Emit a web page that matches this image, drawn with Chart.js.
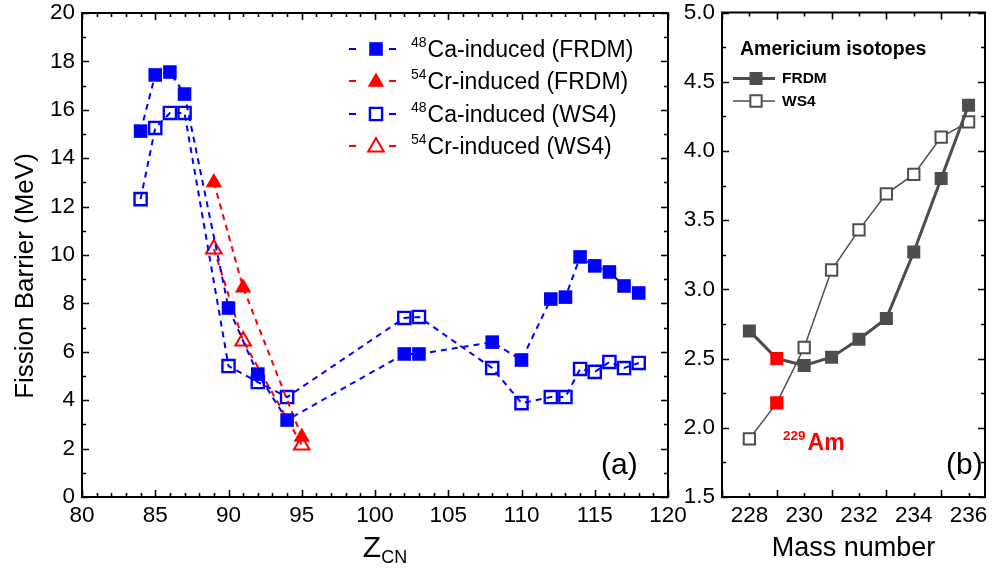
<!DOCTYPE html>
<html><head><meta charset="utf-8">
<script src="https://cdn.jsdelivr.net/npm/chart.js@4.4.1/dist/chart.umd.min.js"></script>
<style>
html,body{margin:0;padding:0;background:#fff;width:995px;height:569px;overflow:hidden;}
#wrapA{position:absolute;left:0;top:0;width:700px;height:569px;}
#wrapB{position:absolute;left:670px;top:0;width:325px;height:569px;}
canvas{display:block;}
</style></head>
<body>
<div id="wrapA"><canvas id="cA" width="700" height="569"></canvas></div>
<div id="wrapB"><canvas id="cB" width="325" height="569"></canvas></div>
<script>
// ---------- Panel (a) data ----------
const zCa = [84,85,86,87,90,92,94,102,103,108,110,112,113,114,115,116,117,118];
const caFRDM = [15.12,17.44,17.56,16.65,7.81,5.08,3.18,5.91,5.91,6.40,5.66,8.18,8.26,9.92,9.55,9.30,8.72,8.43];
const caWS4  = [12.31,15.25,15.87,15.87,5.41,4.75,4.13,7.40,7.44,5.33,3.88,4.13,4.13,5.29,5.17,5.58,5.33,5.54];
const zCr = [89,91,95];
const crFRDM = [13.0,8.65,2.48];
const crWS4  = [10.25,6.45,2.15];
const zTicks = [80,85,90,95,100,105,110,115,120];
const barrierTicks = [0,2,4,6,8,10,12,14,16,18,20];
const seriesNamesA = [
  ['48','Ca-induced (FRDM)'],
  ['54','Cr-induced (FRDM)'],
  ['48','Ca-induced (WS4)'],
  ['54','Cr-induced (WS4)']
];
// ---------- Panel (b) data ----------
const massAm = [228,229,230,231,232,233,234,235,236];
const amFRDM = [2.70,2.50,2.45,2.51,2.64,2.79,3.27,3.80,4.33];
const amWS4  = [1.92,2.18,2.58,3.14,3.43,3.69,3.83,4.10,4.21];
const massTicks = [228,230,232,234,236];
const amBarrierTicks = [1.5,2.0,2.5,3.0,3.5,4.0,4.5,5.0];
const highlightMass = 229;

const FONT = '"Liberation Sans", Arial, Helvetica, sans-serif';
const BLUE = '#0000ff', RED = '#ff0000', GRAY = '#4d4d4d';
const TICKFONT = {family:FONT, size:22.5};

function pts(xs, ys){ return xs.map((x,i)=>({x:x, y:ys[i]})); }

function marker(ctx, style, x, y, r, fill, stroke, lw){
  ctx.save();
  ctx.beginPath();
  if(style==='rect'){
    const s = r*Math.SQRT1_2;
    ctx.rect(x-s, y-s, 2*s, 2*s);
  } else {
    let rad = 0;
    ctx.moveTo(x+Math.sin(rad)*r, y-Math.cos(rad)*r);
    rad += 2*Math.PI/3; ctx.lineTo(x+Math.sin(rad)*r, y-Math.cos(rad)*r);
    rad += 2*Math.PI/3; ctx.lineTo(x+Math.sin(rad)*r, y-Math.cos(rad)*r);
    ctx.closePath();
  }
  if(fill){ ctx.fillStyle = fill; ctx.fill(); }
  if(stroke){ ctx.setLineDash([]); ctx.lineWidth = lw; ctx.strokeStyle = stroke; ctx.stroke(); }
  ctx.restore();
}

function drawFrame(chart, xStep, xMajorEvery, yStep, yMajorEvery, xMin, xMax, yMin, yMax){
  const {ctx, chartArea:a, scales:{x, y}} = chart;
  ctx.save();
  ctx.strokeStyle = '#000';
  ctx.lineWidth = 1.6;
  const nX = Math.round((xMax-xMin)/xStep);
  for(let i=0;i<=nX;i++){
    const v = xMin + i*xStep;
    const px = Math.round(x.getPixelForValue(v))+0.5;
    const len = (i % xMajorEvery === 0) ? 7 : 4;
    ctx.beginPath();
    ctx.moveTo(px, a.bottom); ctx.lineTo(px, a.bottom-len);
    ctx.moveTo(px, a.top); ctx.lineTo(px, a.top+len);
    ctx.stroke();
  }
  const nY = Math.round((yMax-yMin)/yStep);
  for(let i=0;i<=nY;i++){
    const v = yMin + i*yStep;
    const py = Math.round(y.getPixelForValue(v))+0.5;
    const len = (i % yMajorEvery === 0) ? 7 : 4;
    ctx.beginPath();
    ctx.moveTo(a.left, py); ctx.lineTo(a.left+len, py);
    ctx.moveTo(a.right, py); ctx.lineTo(a.right-len, py);
    ctx.stroke();
  }
  ctx.lineWidth = 2;
  ctx.strokeRect(a.left, a.top, a.right-a.left, a.bottom-a.top);
  ctx.restore();
}

function fixX(h){ return s => { s.height = h; s.paddingLeft = 0; s.paddingRight = 0; }; }
function fixY(w){ return s => { s.width = w; s.paddingTop = 0; s.paddingBottom = 0; }; }

// ---------------- Panel (a) ----------------
const legendStylesA = [
  {color:BLUE, style:'rect', filled:true},
  {color:RED, style:'triangle', filled:true},
  {color:BLUE, style:'rect', filled:false},
  {color:RED, style:'triangle', filled:false}
];

const pluginA = {
  id:'decorA',
  afterDraw(chart){
    const ctx = chart.ctx;
    const a = chart.chartArea;
    drawFrame(chart, 1, 5, 1, 2, 80, 120, 0, 20);
    // legend
    const rows = [49, 81, 114, 146];
    seriesNamesA.forEach((nm, i)=>{
      const st = legendStylesA[i];
      const yy = rows[i];
      ctx.save();
      ctx.strokeStyle = st.color; ctx.lineWidth = 2;
      ctx.setLineDash([7, 33]);
      ctx.beginPath(); ctx.moveTo(349, yy); ctx.lineTo(396, yy); ctx.stroke();
      ctx.restore();
      if(st.style==='rect'){
        if(st.filled) marker(ctx,'rect',376,yy,9.6,st.color,null,0);
        else marker(ctx,'rect',376,yy,8.6,null,st.color,2.4);
      } else {
        if(st.filled) marker(ctx,'triangle',376,yy+1,9.5,st.color,null,0);
        else marker(ctx,'triangle',376,yy+1,9,null,st.color,2);
      }
      ctx.save();
      ctx.fillStyle = '#000';
      ctx.textBaseline = 'alphabetic';
      ctx.textAlign = 'left';
      ctx.font = '14px ' + FONT;
      ctx.fillText(nm[0], 411, yy-2);
      const w = ctx.measureText(nm[0]).width;
      ctx.font = '23px ' + FONT;
      ctx.fillText(nm[1], 411 + w + 1, yy+8);
      ctx.restore();
    });
    // (a) label
    ctx.save();
    ctx.fillStyle = '#000';
    ctx.font = '30px ' + FONT;
    ctx.textAlign = 'left';
    ctx.fillText('(a)', 601, 474);
    // y title
    ctx.translate(33, 276);
    ctx.rotate(-Math.PI/2);
    ctx.textAlign = 'center';
    ctx.font = '26px ' + FONT;
    ctx.fillText('Fission Barrier (MeV)', 0, 0);
    ctx.restore();
    // x title Z_CN
    ctx.save();
    ctx.fillStyle = '#000';
    ctx.textAlign = 'left';
    ctx.font = '30px ' + FONT;
    const zw = ctx.measureText('Z').width;
    ctx.font = '18px ' + FONT;
    const cw = ctx.measureText('CN').width;
    const cx = (a.left + a.right)/2 + 10;
    const sx = cx - (zw + cw)/2;
    ctx.font = '30px ' + FONT;
    ctx.fillText('Z', sx, 557);
    ctx.font = '18px ' + FONT;
    ctx.fillText('CN', sx + zw, 563);
    ctx.restore();
  }
};

new Chart(document.getElementById('cA'), {
  type:'line',
  data:{
    datasets:[
      {label:'48Ca-induced (FRDM)', data:pts(zCa, caFRDM), borderColor:BLUE, backgroundColor:BLUE,
       borderWidth:2, borderDash:[6,5], pointStyle:'rect', pointRadius:9.6, pointBorderWidth:0,
       pointBackgroundColor:BLUE, pointBorderColor:BLUE, tension:0},
      {label:'54Cr-induced (FRDM)', data:pts(zCr, crFRDM), borderColor:RED, backgroundColor:RED,
       borderWidth:2, borderDash:[6,5], pointStyle:'triangle', pointRadius:9.5, pointBorderWidth:0,
       pointBackgroundColor:RED, pointBorderColor:RED, tension:0},
      {label:'48Ca-induced (WS4)', data:pts(zCa, caWS4), borderColor:BLUE, backgroundColor:'rgba(0,0,0,0)',
       borderWidth:2, borderDash:[6,5], pointStyle:'rect', pointRadius:8.6, pointBorderWidth:2.4,
       pointBackgroundColor:'rgba(0,0,0,0)', pointBorderColor:BLUE, tension:0},
      {label:'54Cr-induced (WS4)', data:pts(zCr, crWS4), borderColor:RED, backgroundColor:'rgba(0,0,0,0)',
       borderWidth:2, borderDash:[6,5], pointStyle:'triangle', pointRadius:9, pointBorderWidth:2,
       pointBackgroundColor:'rgba(0,0,0,0)', pointBorderColor:RED, tension:0}
    ]
  },
  options:{
    responsive:false, animation:false, devicePixelRatio:1,
    layout:{padding:{top:13, right:32, left:0, bottom:0}},
    plugins:{legend:{display:false}, tooltip:{enabled:false}},
    scales:{
      x:{type:'linear', min:80, max:120,
         afterBuildTicks:s=>{ s.ticks = zTicks.map(v=>({value:v})); },
         afterFit:fixX(72),
         grid:{display:false, drawTicks:false}, border:{display:false},
         ticks:{color:'#000', font:TICKFONT, padding:5, maxRotation:0, autoSkip:false}},
      y:{type:'linear', min:0, max:20,
         afterBuildTicks:s=>{ s.ticks = barrierTicks.map(v=>({value:v})); },
         afterFit:fixY(82),
         grid:{display:false, drawTicks:false}, border:{display:false},
         ticks:{color:'#000', font:TICKFONT, padding:7, autoSkip:false}}
    }
  },
  plugins:[pluginA]
});

// ---------------- Panel (b) ----------------
const frdmFill = massAm.map(m => m===highlightMass ? RED : GRAY);
const ws4Fill  = massAm.map(m => m===highlightMass ? RED : '#ffffff');
const ws4Edge  = massAm.map(m => m===highlightMass ? RED : GRAY);

const pluginB = {
  id:'decorB',
  afterDraw(chart){
    const ctx = chart.ctx;
    const a = chart.chartArea;
    drawFrame(chart, 1, 2, 0.25, 2, 227, 236, 1.5, 5.0);
    // legend
    ctx.save();
    ctx.fillStyle = '#000';
    ctx.textAlign = 'left';
    ctx.font = 'bold 19.5px ' + FONT;
    ctx.fillText('Americium isotopes', 740-670, 55);
    ctx.font = 'bold 15.5px ' + FONT;
    ctx.fillText('FRDM', 782-670, 83);
    ctx.fillText('WS4', 782-670, 106);
    ctx.strokeStyle = GRAY;
    ctx.lineWidth = 3;
    ctx.beginPath(); ctx.moveTo(733-670, 78.5); ctx.lineTo(775-670, 78.5); ctx.stroke();
    ctx.lineWidth = 1.5;
    ctx.beginPath(); ctx.moveTo(733-670, 101); ctx.lineTo(775-670, 101); ctx.stroke();
    ctx.restore();
    marker(ctx,'rect',756-670,78.5,9.2,GRAY,null,0);
    marker(ctx,'rect',756-670,101,8,'#ffffff',GRAY,2);
    // 229Am label
    ctx.save();
    ctx.fillStyle = RED;
    ctx.textAlign = 'left';
    ctx.font = 'bold 13.5px ' + FONT;
    ctx.fillText('229', 783-670, 440);
    const w = ctx.measureText('229').width;
    ctx.font = 'bold 23px ' + FONT;
    ctx.fillText('Am', 783-670 + w + 2, 450);
    ctx.restore();
    // (b)
    ctx.save();
    ctx.fillStyle = '#000';
    ctx.font = '30px ' + FONT;
    ctx.textAlign = 'left';
    ctx.fillText('(b)', 946-670, 474);
    // x title
    ctx.textAlign = 'center';
    ctx.font = '27px ' + FONT;
    ctx.fillText('Mass number', (a.left+a.right)/2, 556);
    ctx.restore();
  }
};

new Chart(document.getElementById('cB'), {
  type:'line',
  data:{
    datasets:[
      {label:'FRDM', data:pts(massAm, amFRDM), borderColor:GRAY, borderWidth:3,
       pointStyle:'rect', pointRadius:9.2, pointBorderWidth:0,
       pointBackgroundColor:frdmFill, pointBorderColor:frdmFill, tension:0},
      {label:'WS4', data:pts(massAm, amWS4), borderColor:GRAY, borderWidth:1.5,
       pointStyle:'rect', pointRadius:8, pointBorderWidth:2,
       pointBackgroundColor:ws4Fill, pointBorderColor:ws4Edge, tension:0}
    ]
  },
  options:{
    responsive:false, animation:false, devicePixelRatio:1,
    layout:{padding:{top:12.5, right:5, left:0, bottom:0}},
    plugins:{legend:{display:false}, tooltip:{enabled:false}},
    scales:{
      x:{type:'linear', min:227, max:236.6,
         afterBuildTicks:s=>{ s.ticks = massTicks.map(v=>({value:v})); },
         afterFit:fixX(72),
         grid:{display:false, drawTicks:false}, border:{display:false},
         ticks:{color:'#000', font:TICKFONT, padding:5, maxRotation:0, autoSkip:false}},
      y:{type:'linear', min:1.5, max:5.0,
         afterBuildTicks:s=>{ s.ticks = amBarrierTicks.map(v=>({value:v})); },
         afterFit:fixY(52),
         grid:{display:false, drawTicks:false}, border:{display:false},
         ticks:{color:'#000', font:TICKFONT, padding:7, autoSkip:false,
                callback:v=>Number(v).toFixed(1)}}
    }
  },
  plugins:[pluginB]
});
</script>
</body></html>
